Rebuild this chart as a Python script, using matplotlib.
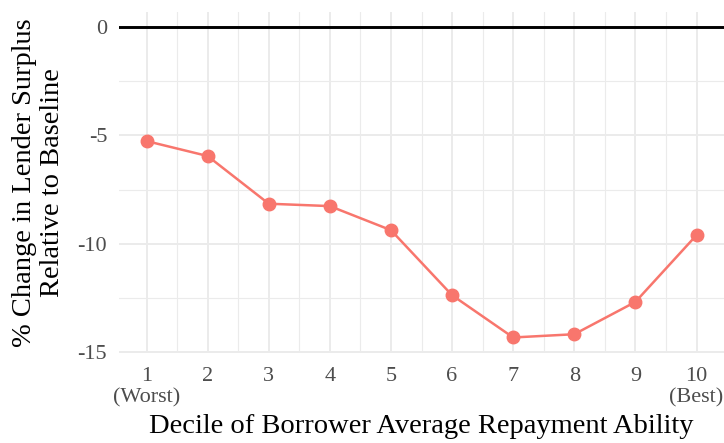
import numpy as np
import matplotlib
matplotlib.use("Agg")
import matplotlib.pyplot as plt
from matplotlib.ticker import MultipleLocator

deciles = [1, 2, 3, 4, 5, 6, 7, 8, 9, 10]
pct_change = [-5.26, -5.95, -8.15, -8.26, -9.37, -12.37, -14.32, -14.17, -12.68, -9.60]
tick_labels = ['1\n(Worst)', '2', '3', '4', '5', '6', '7', '8', '9', '10\n(Best)']
y_ticks = [0, -5, -10, -15]

plt.rcParams['font.family'] = ['Liberation Serif', 'DejaVu Serif']

fig = plt.figure(figsize=(7.24, 4.43), dpi=100)
ax = fig.add_axes([119 / 724, 1 - 353 / 443, (724 - 119) / 724, (353 - 11.5) / 443])

# ggplot-ish minimal theme
for s in ax.spines.values():
    s.set_visible(False)
ax.set_facecolor('white')
ax.xaxis.set_minor_locator(MultipleLocator(0.5))
ax.yaxis.set_minor_locator(MultipleLocator(2.5))
ax.grid(which='major', color='#EBEBEB', linewidth=1.4)
ax.grid(which='minor', color='#EBEBEB', linewidth=0.8)
ax.set_axisbelow(True)
ax.tick_params(which='both', length=0)
ax.tick_params(axis='both', labelsize=16, labelcolor='#4D4D4D')
ax.tick_params(axis='x', pad=10)
ax.tick_params(axis='y', pad=8.5)

ax.axhline(0, color='black', linewidth=2.1, zorder=2)
ax.plot(deciles, pct_change, color='#F8766D', linewidth=1.8, zorder=3)
ax.plot(deciles, pct_change, 'o', color='#F8766D', markersize=9, zorder=4)

ax.set_xticks(deciles)
ax.set_xticklabels(tick_labels, va='top', linespacing=1.15)
ax.set_yticks(y_ticks)
ax.set_yticklabels([str(v) for v in y_ticks])

ymin, ymax = min(pct_change), 0
yr = ymax - ymin
ax.set_ylim(ymin - 0.05 * yr, ymax + 0.05 * yr)
ax.set_xlim(1 - 0.45, 10 + 0.45)

ax.set_xlabel('Decile of Borrower Average Repayment Ability', fontsize=20.5, labelpad=5)
ax.set_ylabel('% Change in Lender Surplus\nRelative to Baseline', fontsize=20.5,
              linespacing=1.15, labelpad=9)

fig.savefig('out.png', dpi=100)
